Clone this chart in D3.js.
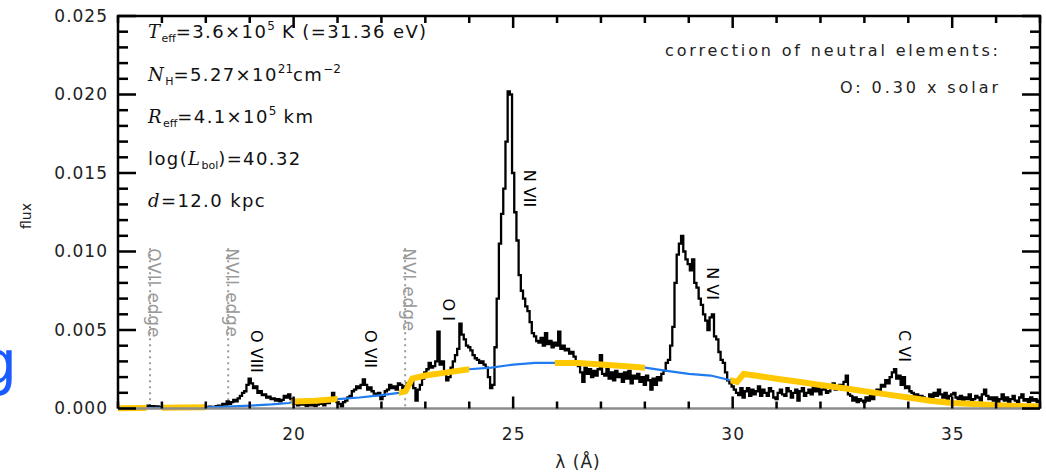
<!DOCTYPE html>
<html>
<head>
<meta charset="utf-8">
<script src="https://cdn.jsdelivr.net/npm/d3@7"></script>
<style>
  body { margin: 0; background: #fff; }
  svg { display: block; }
</style>
</head>
<body>
<div id="chart"></div>
<script>
// observed spectrum, 0.05 A bins starting at 16.00 A (one row per Angstrom)
var waveStart = 16.0, waveStep = 0.05;
var spectrumFlux = [
  .00003,.00005,.00002,.00004,.00003,.00006,.00002,.00005,.00004,.00007,.00005,.00008,.00006,.00010,.00018,.00012,.00015,.00010,.00014,.00008,
  .00010,.00006,.00008,.00004,.00012,.00007,.00004,.00009,.00006,.00003,.00005,.00008,.00004,.00006,.00009,.00005,.00008,.00006,.00010,.00007,
  .00010,.00006,.00012,.00008,.00010,.00015,.00018,.00012,.00030,.00025,.00045,.00030,.00040,.00055,.00045,.00065,.00080,.00100,.00110,.00150,
  .00190,.00160,.00130,.00140,.00100,.00110,.00085,.00090,.00070,.00075,.00060,.00065,.00050,.00060,.00045,.00055,.00080,.00070,.00090,.00060,
  .00040,.00030,.00020,.00035,.00025,.00040,.00015,.00030,.00020,.00035,.00015,.00025,.00040,.00030,.00020,.00045,.00035,.00060,.00100,.00055,
  .00040,.00030,.00010,.00040,.00050,.00070,.00080,.00110,.00120,.00140,.00130,.00150,.00185,.00150,.00120,.00135,.00110,.00095,.00085,.00100,
  .00060,.00080,.00110,.00120,.00150,.00130,.00140,.00120,.00160,.00150,.00120,.00140,.00160,.00150,.00180,.00130,.00050,.00120,.00150,.00190,
  .00230,.00250,.00290,.00260,.00270,.00300,.00490,.00280,.00300,.00230,.00180,.00200,.00260,.00300,.00340,.00380,.00540,.00470,.00440,.00400,
  .00390,.00370,.00340,.00320,.00310,.00290,.00300,.00280,.00260,.00200,.00130,.00150,.00390,.00700,.01050,.01240,.01400,.01700,.02020,.02000,
  .01500,.01250,.01070,.00850,.00750,.00700,.00650,.00620,.00550,.00480,.00460,.00430,.00420,.00450,.00400,.00480,.00410,.00430,.00390,.00420,
  .00400,.00490,.00380,.00400,.00370,.00380,.00350,.00360,.00330,.00290,.00270,.00230,.00170,.00260,.00220,.00250,.00200,.00240,.00210,.00250,
  .00340,.00220,.00210,.00250,.00190,.00230,.00180,.00240,.00200,.00220,.00170,.00230,.00190,.00240,.00160,.00210,.00190,.00220,.00170,.00200,
  .00150,.00210,.00180,.00120,.00190,.00150,.00200,.00180,.00220,.00240,.00290,.00310,.00400,.00520,.00800,.00980,.01050,.01100,.01000,.00950,
  .00920,.00880,.00950,.00800,.00770,.00700,.00660,.00600,.00560,.00500,.00580,.00600,.00460,.00440,.00360,.00310,.00290,.00230,.00180,.00160,
  .00140,.00120,.00100,.00085,.00130,.00070,.00110,.00130,.00080,.00120,.00090,.00110,.00140,.00080,.00120,.00100,.00080,.00130,.00110,.00070,
  .00060,.00100,.00120,.00090,.00080,.00130,.00110,.00070,.00100,.00120,.00050,.00110,.00130,.00080,.00100,.00120,.00090,.00140,.00110,.00130,
  .00090,.00120,.00130,.00100,.00110,.00140,.00160,.00120,.00130,.00150,.00120,.00170,.00210,.00090,.00080,.00050,.00070,.00040,.00060,.00050,
  .00040,.00070,.00050,.00080,.00060,.00090,.00120,.00100,.00150,.00140,.00180,.00160,.00200,.00230,.00250,.00190,.00210,.00150,.00200,.00130,
  .00140,.00110,.00100,.00080,.00090,.00060,.00080,.00070,.00050,.00060,.00090,.00070,.00100,.00080,.00120,.00090,.00070,.00100,.00060,.00080,
  .00090,.00100,.00070,.00060,.00080,.00050,.00070,.00060,.00090,.00050,.00060,.00080,.00070,.00050,.00090,.00120,.00080,.00060,.00070,.00050,
  .00070,.00040,.00060,.00090,.00050,.00070,.00040,.00060,.00080,.00050,.00040,.00070,.00090,.00050,.00060,.00040,.00070,.00050,.00060,.00040,
  .00050
];

// model (blackbody + absorption)
var modelWave = [16.0,16.5,17.0,17.5,18.0,18.5,19.0,19.5,19.9,20.0,20.5,21.0,21.5,22.0,22.4,22.55,22.7,23.0,23.5,24.0,24.5,25.0,25.5,26.0,26.5,27.0,27.5,28.0,28.5,29.0,29.5,29.95,30.1,30.25,30.5,31.0,31.5,32.0,32.5,33.0,33.5,34.0,34.5,35.0,35.5,36.0,36.5,37.0];
var modelFlux = [.00002,.00003,.00004,.00006,.00008,.00012,.00018,.00026,.00035,.00045,.0005,.0006,.0007,.00085,.001,.0011,.0019,.0021,.0023,.0025,.0026,.0028,.0029,.0029,.0029,.0028,.0027,.0026,.0024,.0022,.0021,.0018,.0017,.0022,.0021,.0019,.0017,.0015,.0013,.0011,.0009,.0007,.0005,.00035,.00028,.0002,.00016,.00012];

// wavelength ranges used in the fit (drawn in yellow)
var fitStart = [16.0, 17.0, 19.95, 22.4, 25.95, 29.95];
var fitEnd   = [16.65, 18.0, 21.0, 24.0, 28.0, 37.0];

// line identifications
var lineNames = ["O VIII", "O VII", "O I", "N VII", "N VI", "C VI"];
var lineWave  = [19.17, 21.76, 23.54, 25.39, 29.55, 33.93];
var lineTop   = [0.0050, 0.0050, 0.0070, 0.0152, 0.0090, 0.0050];

// absorption edges
var edgeNames = ["OVII edge", "NVII edge", "NVI edge"];
var edgeWave  = [16.73, 18.51, 22.54];
var edgeTop   = 0.0102;

var yMajor = [0, 0.005, 0.010, 0.015, 0.020, 0.025];
var xMajor = [20, 25, 30, 35];

var paramLines = [
  [["T","i"],["eff","sub"],["=3.6×10",""],["5","sup"],[" K (=31.36 eV)",""]],
  [["N","i"],["H","sub"],["=5.27×10",""],["21","sup"],["cm",""],["−2","sup"]],
  [["R","i"],["eff","sub"],["=4.1×10",""],["5","sup"],[" km",""]],
  [["log(",""],["L","i"],["bol","sub"],[")=40.32",""]],
  [["d","i"],["=12.0 kpc",""]]
];

var width = 1046, height = 475;
var margin = {left: 118, right: 6, top: 16, bottom: 66.5};

var svg = d3.select("#chart").append("svg")
  .attr("width", width)
  .attr("height", height);

var x = d3.scaleLinear().domain([16, 37]).range([margin.left, width - margin.right]);
var y = d3.scaleLinear().domain([0, 0.025]).range([height - margin.bottom, margin.top]);

// blue "g" fragment at the left edge
svg.append("text")
  .attr("x", -21).attr("y", 383)
  .attr("font-family", "DejaVu Sans").attr("font-size", 60)
  .attr("fill", "#1a5cff")
  .text("g");

// edges
edgeWave.forEach(function(w, i) {
  svg.append("line")
    .attr("x1", x(w)).attr("x2", x(w))
    .attr("y1", y(edgeTop)).attr("y2", y(0))
    .attr("stroke", "#9a9a9a").attr("stroke-width", 2)
    .attr("stroke-dasharray", "2,4");
  svg.append("text")
    .attr("transform", "translate(" + (x(w) - 2) + "," + y(edgeTop) + ") rotate(90)")
    .attr("font-family", "DejaVu Sans").attr("font-size", 17)
    .attr("letter-spacing", 0.8)
    .attr("fill", "#999")
    .text(edgeNames[i]);
});

// spectrum
var spec = spectrumFlux.map(function(f, i) { return {w: waveStart + i * waveStep, f: f}; });
var specLine = d3.line()
  .x(function(d) { return x(d.w); })
  .y(function(d) { return y(d.f); })
  .curve(d3.curveStep);
svg.append("path")
  .datum(spec)
  .attr("d", specLine)
  .attr("fill", "none")
  .attr("stroke", "#000")
  .attr("stroke-width", 2.3);

// model
var model = modelWave.map(function(w, i) { return {w: w, f: modelFlux[i]}; });
var modelLine = d3.line()
  .x(function(d) { return x(d.w); })
  .y(function(d) { return y(d.f); });
svg.append("path")
  .datum(model)
  .attr("d", modelLine)
  .attr("fill", "none")
  .attr("stroke", "#1e7bf0")
  .attr("stroke-width", 2.2);

var clip = svg.append("defs").append("clipPath").attr("id", "fitclip");
fitStart.forEach(function(s, i) {
  clip.append("rect")
    .attr("x", x(s)).attr("width", x(fitEnd[i]) - x(s))
    .attr("y", 0).attr("height", height);
});
svg.append("path")
  .datum(model)
  .attr("d", modelLine)
  .attr("clip-path", "url(#fitclip)")
  .attr("fill", "none")
  .attr("stroke", "#ffc800")
  .attr("stroke-width", 6);

// line labels
lineNames.forEach(function(n, i) {
  svg.append("text")
    .attr("transform", "translate(" + (x(lineWave[i]) - 6) + "," + y(lineTop[i]) + ") rotate(90)")
    .attr("font-family", "DejaVu Sans").attr("font-size", 16)
    .attr("fill", "#000")
    .text(n);
});

// axes
function minorTicks(lo, hi, step) {
  var out = [];
  for (var v = lo; v <= hi + 1e-9; v += step) out.push(+v.toFixed(4));
  return out;
}
var xMinor = minorTicks(16, 37, 1);
var yMinor = minorTicks(0, 0.025, 0.001);
function isMajor(list, v) {
  return list.some(function(m) { return Math.abs(m - v) < 1e-9; });
}

var yb = y(0), yt = y(0.025), xl = x(16), xr = x(37);

// tick labels from d3 axes
var xAxis = svg.append("g").attr("transform", "translate(0," + yb + ")")
  .call(d3.axisBottom(x).tickValues(xMajor).tickSize(0).tickPadding(19).tickFormat(d3.format("d")));
xAxis.select(".domain").remove();
xAxis.selectAll("text").attr("font-family", "DejaVu Sans").attr("fill", "#222")
  .attr("font-size", 17).attr("letter-spacing", 1);

var yAxis = svg.append("g").attr("transform", "translate(" + xl + ",0)")
  .call(d3.axisLeft(y).tickValues(yMajor).tickSize(0).tickPadding(10).tickFormat(d3.format(".3f")));
yAxis.select(".domain").remove();
yAxis.selectAll("text").attr("font-family", "DejaVu Sans").attr("fill", "#222")
  .attr("font-size", 17).attr("letter-spacing", 1);

// axis titles
svg.append("text")
  .attr("transform", "translate(31," + 216 + ") rotate(-90)")
  .attr("text-anchor", "middle")
  .attr("font-family", "DejaVu Sans").attr("font-size", 14).attr("fill", "#222")
  .text("flux");
svg.append("text")
  .attr("x", 578).attr("y", 468)
  .attr("text-anchor", "middle")
  .attr("font-family", "DejaVu Sans").attr("font-size", 17).attr("fill", "#222")
  .attr("letter-spacing", 1)
  .text("λ (Å)");

// parameter block
var baselines = [38, 81, 123, 165, 207];
paramLines.forEach(function(parts, i) {
  var t = svg.append("text")
    .attr("x", 148).attr("y", baselines[i])
    .attr("font-family", "DejaVu Sans").attr("font-size", 18).attr("fill", "#111")
    .attr("letter-spacing", 1.4);
  var shift = 0;
  parts.forEach(function(p) {
    var s = t.append("tspan").text(p[0]);
    var want = 0;
    if (p[1] === "i") s.attr("font-family", "DejaVu Serif").attr("font-style", "italic");
    if (p[1] === "sub") { s.attr("font-size", 11).attr("letter-spacing", 0); want = 4; }
    if (p[1] === "sup") { s.attr("font-size", 12).attr("letter-spacing", 0); want = -8; }
    s.attr("dy", want - shift);
    shift = want;
  });
});

// correction note
svg.append("text")
  .attr("x", 998).attr("y", 56).attr("text-anchor", "end")
  .attr("font-family", "DejaVu Sans").attr("font-size", 16).attr("fill", "#222")
  .attr("textLength", 333).attr("lengthAdjust", "spacing")
  .text("correction of neutral elements:");
svg.append("text")
  .attr("x", 998).attr("y", 93).attr("text-anchor", "end")
  .attr("font-family", "DejaVu Sans").attr("font-size", 16).attr("fill", "#222")
  .attr("textLength", 158).attr("lengthAdjust", "spacing")
  .text("O: 0.30 x solar");

// frame
svg.append("line").attr("x1", xl).attr("x2", xr).attr("y1", yb).attr("y2", yb).attr("stroke", "#8c8c8c").attr("stroke-width", 2.5);
svg.append("path")
  .attr("d", "M" + xl + "," + yb + "V" + yt + "H" + xr + "V" + yb)
  .attr("fill", "none").attr("stroke", "#000").attr("stroke-width", 2.5);

// inward tick marks on all four sides, as small filled bars
var tickG = svg.append("g").attr("fill", "#000");
tickG.selectAll("rect.xb").data(xMinor).enter().append("rect")
  .attr("x", function(d) { return x(d) - 1.25; }).attr("width", 2.5)
  .attr("y", function(d) { return yb - (isMajor(xMajor, d) ? 12 : 7); })
  .attr("height", function(d) { return isMajor(xMajor, d) ? 12 : 7; });
tickG.selectAll("rect.xt").data(xMinor).enter().append("rect")
  .attr("x", function(d) { return x(d) - 1.25; }).attr("width", 2.5)
  .attr("y", yt)
  .attr("height", function(d) { return isMajor(xMajor, d) ? 12 : 7; });
tickG.selectAll("rect.yl").data(yMinor).enter().append("rect")
  .attr("y", function(d) { return y(d) - 1.25; }).attr("height", 2.5)
  .attr("x", xl)
  .attr("width", function(d) { return isMajor(yMajor, d) ? 18 : 10; });
tickG.selectAll("rect.yr").data(yMinor).enter().append("rect")
  .attr("y", function(d) { return y(d) - 1.25; }).attr("height", 2.5)
  .attr("x", function(d) { return xr - (isMajor(yMajor, d) ? 18 : 10); })
  .attr("width", function(d) { return isMajor(yMajor, d) ? 18 : 10; });
</script>
</body>
</html>
